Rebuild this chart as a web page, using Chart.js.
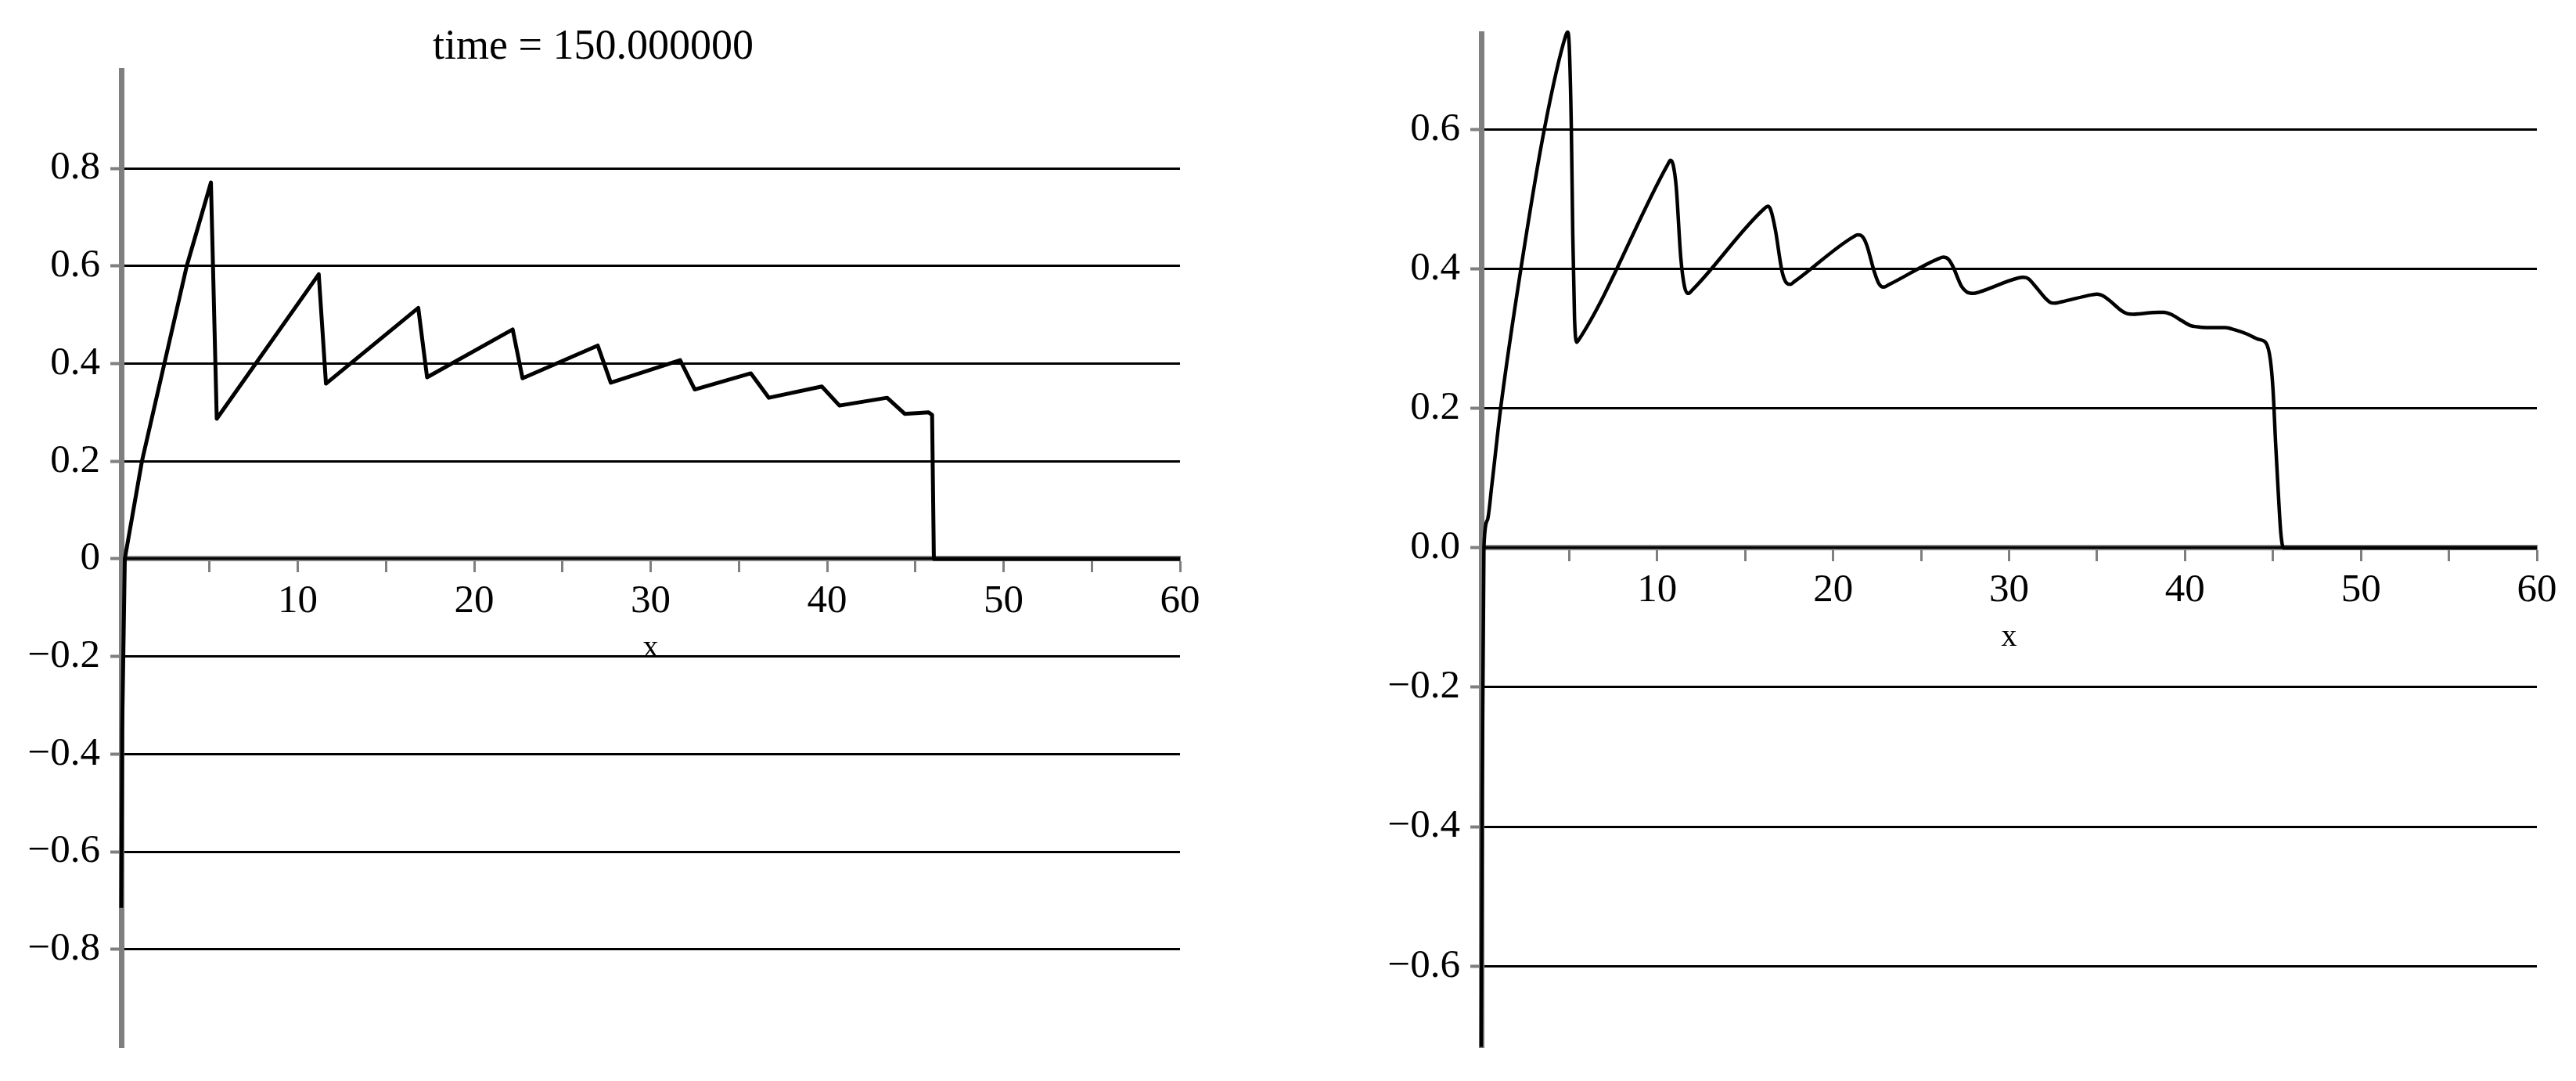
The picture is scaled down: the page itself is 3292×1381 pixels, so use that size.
<!DOCTYPE html>
<html>
<head>
<meta charset="utf-8">
<script src="https://cdn.jsdelivr.net/npm/chart.js@4/dist/chart.umd.min.js"></script>
<style>
  html, body { margin: 0; padding: 0; background: #fff; overflow: hidden; }
  body { width: 3292px; height: 1381px; position: relative; }
  canvas { position: absolute; top: 0; }
  #leftPlot { left: 8px; }
  #rightPlot { left: 1640px; }
</style>
</head>
<body>
<canvas id="leftPlot" width="1608" height="1381"></canvas>
<canvas id="rightPlot" width="1652" height="1381"></canvas>
<script>
// left plot: u(x) at time = 150
const leftX = [0, 0.05, 0.2, 1.17, 2.44, 3.71, 5.08, 5.41, 11.19, 11.6, 16.83, 17.33, 22.18, 22.74,
  27.0, 27.74, 31.67, 32.5, 35.68, 36.7, 39.7, 40.7, 43.4, 44.4, 45.75, 45.95, 46.05, 60];
const leftU = [-0.715, -0.35, 0, 0.2, 0.4, 0.6, 0.771, 0.287, 0.583, 0.359, 0.514, 0.372, 0.470, 0.370,
  0.437, 0.361, 0.407, 0.347, 0.380, 0.330, 0.353, 0.314, 0.330, 0.297, 0.300, 0.295, 0, 0];
const leftYTicks = [-0.8, -0.6, -0.4, -0.2, 0, 0.2, 0.4, 0.6, 0.8];
const leftYLabels = ['\u22120.8', '\u22120.6', '\u22120.4', '\u22120.2', '0', '0.2', '0.4', '0.6', '0.8'];

// right plot (smoother solution)
const rightX = [0, 0.05, 0.15, 0.35, 0.6, 1.1, 2.25, 3.58, 4.8, 4.9, 5.0, 5.12, 5.2, 5.3, 5.42, 5.5,
  10.6, 10.75, 10.9, 11.08, 11.34, 11.55, 11.77, 12.0,
  16.1, 16.28, 16.45, 16.71, 17.1, 17.35, 17.56, 17.8,
  21.2, 21.4, 21.65, 21.9, 22.34, 22.6, 22.86, 23.2,
  26.0, 26.26, 26.55, 26.8, 27.3, 27.6, 27.97, 28.3,
  30.5, 30.8, 31.1, 31.4, 32.1, 32.35, 32.6, 33.0,
  34.7, 35.0, 35.3, 35.7, 36.4, 36.7, 37.06, 37.5,
  38.5, 38.8, 39.2, 39.8, 40.3, 40.7, 41.2, 42.3, 42.8, 43.5, 44.2, 44.6,
  44.85, 45.0, 45.15, 45.3, 45.45, 45.6, 60];
const rightU = [-0.716, -0.35, 0, 0.04, 0.09, 0.2, 0.4, 0.6, 0.735, 0.74, 0.72, 0.6, 0.45, 0.33, 0.295, 0.297,
  0.55, 0.556, 0.55, 0.518, 0.416, 0.375, 0.365, 0.37,
  0.487, 0.49, 0.485, 0.457, 0.396, 0.38, 0.378, 0.382,
  0.447, 0.449, 0.447, 0.435, 0.396, 0.379, 0.374, 0.378,
  0.415, 0.417, 0.414, 0.404, 0.375, 0.367, 0.365, 0.367,
  0.387, 0.388, 0.386, 0.378, 0.357, 0.352, 0.351, 0.353,
  0.363, 0.364, 0.362, 0.355, 0.340, 0.336, 0.335, 0.336,
  0.338, 0.338, 0.335, 0.326, 0.319, 0.317, 0.316, 0.316, 0.313, 0.307, 0.299, 0.294,
  0.27, 0.228, 0.15, 0.08, 0.02, 0, 0];
const rightYTicks = [-0.6, -0.4, -0.2, 0, 0.2, 0.4, 0.6];
const rightYLabels = ['\u22120.6', '\u22120.4', '\u22120.2', '0.0', '0.2', '0.4', '0.6'];

const xTicks = [5, 10, 15, 20, 25, 30, 35, 40, 45, 50, 55, 60];
const xLabels = ['', '10', '', '20', '', '30', '', '40', '', '50', '', '60'];

const serif = '"Liberation Serif", "Times New Roman", serif';
const gray = '#7f7f7f';

// draws the axis name "x" under the tick labels
const axisName = {
  id: 'axisName',
  afterDraw(chart, args, opts) {
    const { ctx, scales: { x, y } } = chart;
    ctx.save();
    ctx.font = '40px ' + serif;
    ctx.fillStyle = '#000';
    ctx.textAlign = 'center';
    ctx.textBaseline = 'middle';
    ctx.fillText(opts.text, x.getPixelForValue(30), y.getPixelForValue(0) + opts.offset);
    ctx.restore();
  }
};

function makePlot(id, xs, us, yTicks, yLabels, o) {
  return new Chart(document.getElementById(id), {
    type: 'line',
    plugins: [axisName],
    data: {
      datasets: [{
        data: xs.map((x, i) => ({ x: x, y: us[i] })),
        borderColor: '#000',
        borderWidth: o.lineWidth,
        pointRadius: 0,
        tension: 0,
        cubicInterpolationMode: o.smooth ? 'monotone' : 'default',
        borderJoinStyle: 'round',
        clip: 10
      }]
    },
    options: {
      responsive: false,
      animation: false,
      layout: { padding: o.padding },
      plugins: {
        legend: { display: false },
        tooltip: { enabled: false },
        title: {
          display: !!o.title,
          text: o.title,
          color: '#000',
          font: { family: serif, size: 54, weight: 'normal', lineHeight: 1.1 },
          padding: { top: 31, bottom: 0 }
        },
        axisName: { text: 'x', offset: 115 }
      },
      scales: {
        x: {
          type: 'linear',
          min: 0,
          max: 60,
          position: { y: 0 },
          afterBuildTicks: s => { s.ticks = xTicks.map(v => ({ value: v })); },
          ticks: {
            callback: (v, i) => xLabels[i],
            autoSkip: false,
            maxRotation: 0,
            color: '#000',
            padding: 10,
            font: { family: serif, size: 51 }
          },
          grid: { drawOnChartArea: false, drawTicks: true, tickLength: 14, tickColor: gray, tickWidth: 3 },
          border: { color: gray, width: 7, z: -1 }
        },
        y: {
          type: 'linear',
          min: o.yMin,
          max: o.yMax,
          afterBuildTicks: s => { s.ticks = yTicks.map(v => ({ value: v })); },
          afterFit: s => { s.width = o.axisWidth; },
          ticks: {
            callback: (v, i) => yLabels[i],
            color: '#000',
            padding: 13,
            font: { family: serif, size: 51 }
          },
          grid: { color: '#000', lineWidth: 3, tickColor: gray, tickLength: 14, tickWidth: 4 },
          border: { color: gray, width: 7 }
        }
      }
    }
  });
}

makePlot('leftPlot', leftX, leftU, leftYTicks, leftYLabels, {
  title: 'time = 150.000000',
  yMin: -1, yMax: 1,
  axisWidth: 147,
  padding: { left: 0, right: 108, top: 0, bottom: 37 },
  lineWidth: 5,
  smooth: false
});

makePlot('rightPlot', rightX, rightU, rightYTicks, rightYLabels, {
  title: '',
  yMin: -0.716, yMax: 0.737,
  axisWidth: 253,
  padding: { left: 0, right: 50, top: 30, bottom: 37 },
  lineWidth: 4.5,
  smooth: true
});
</script>
</body>
</html>
